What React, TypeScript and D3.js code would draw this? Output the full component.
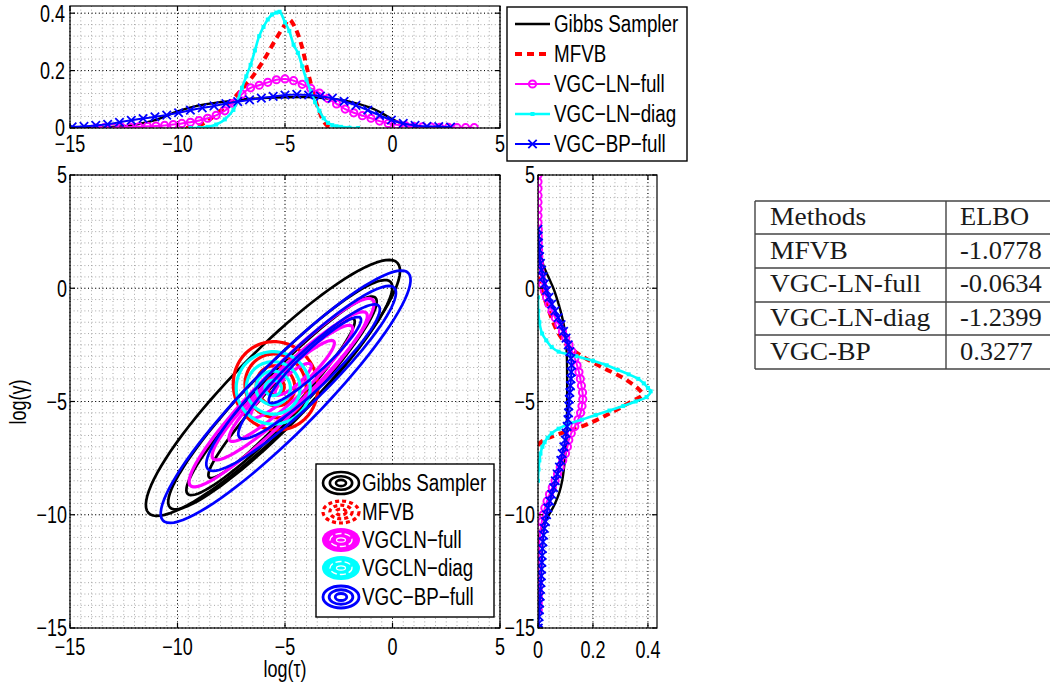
import React from 'react';
import * as d3 from 'd3';

// ---------- data: marginal of log(tau) (top panel) [x, density] ----------
const gibbsTop: [number, number][] = [
  [-15, 0], [-14, 0.001], [-13, 0.004], [-12, 0.011], [-11, 0.028], [-10, 0.058], [-9, 0.079], [-8, 0.09],
  [-7, 0.099], [-6, 0.104], [-5, 0.107], [-4, 0.108], [-3, 0.103], [-2, 0.092], [-1, 0.07], [-0.5, 0.052],
  [0, 0.03], [0.5, 0.014], [1, 0.005], [1.5, 0.002], [2, 0],
];
const mfvbTop: [number, number][] = [
  [-9.6, 0], [-9, 0.008], [-8.5, 0.03], [-8, 0.06], [-7.5, 0.095], [-7, 0.135], [-6.5, 0.18], [-6, 0.235],
  [-5.5, 0.3], [-5, 0.36], [-4.8, 0.378], [-4.5, 0.345], [-4.2, 0.28], [-4, 0.215], [-3.8, 0.155], [-3.6, 0.1],
  [-3.4, 0.057], [-3.2, 0.022], [-3, 0.006], [-2.8, 0],
];
const lnFullTop: [number, number][] = [
  [-13.8, 0], [-13.4, 0.001], [-13.0, 0.001], [-12.6, 0.002], [-12.2, 0.003], [-11.8, 0.004], [-11.4, 0.006],
  [-11.0, 0.007], [-10.6, 0.009], [-10.2, 0.012], [-9.8, 0.016], [-9.4, 0.02], [-9.0, 0.026], [-8.6, 0.034],
  [-8.2, 0.044], [-7.8, 0.06], [-7.4, 0.086], [-7.0, 0.118], [-6.6, 0.14], [-6.2, 0.149], [-5.8, 0.159],
  [-5.4, 0.168], [-5.0, 0.171], [-4.6, 0.165], [-4.2, 0.152], [-3.8, 0.138], [-3.4, 0.122], [-3.0, 0.103],
  [-2.6, 0.084], [-2.2, 0.066], [-1.8, 0.053], [-1.4, 0.043], [-1.0, 0.034], [-0.6, 0.024], [-0.2, 0.016],
  [0.2, 0.011], [0.6, 0.008], [1.0, 0.005], [1.4, 0.004], [1.8, 0.003], [2.2, 0.002], [2.6, 0.002],
  [3.0, 0.001], [3.4, 0.001], [3.8, 0.001],
];
const lnDiagTop: [number, number][] = [
  [-9.4, 0], [-9.0, 0.001], [-8.6, 0.004], [-8.2, 0.012], [-7.8, 0.03], [-7.4, 0.063], [-7.0, 0.14],
  [-6.8, 0.18], [-6.6, 0.22], [-6.4, 0.27], [-6.2, 0.32], [-6.0, 0.352], [-5.8, 0.378], [-5.6, 0.395],
  [-5.4, 0.402], [-5.25, 0.405], [-5.0, 0.368], [-4.8, 0.338], [-4.6, 0.29], [-4.4, 0.262], [-4.2, 0.215],
  [-4.0, 0.168], [-3.8, 0.128], [-3.6, 0.09], [-3.4, 0.06], [-3.2, 0.034], [-3.0, 0.018], [-2.8, 0.01],
  [-2.6, 0.006], [-2.4, 0.004], [-2.0, 0.001], [-1.6, 0],
];
const bpFullTop: [number, number][] = [
  [-14.9, 0.004], [-14.35, 0.006], [-13.8, 0.009], [-13.25, 0.013], [-12.7, 0.02], [-12.15, 0.027],
  [-11.6, 0.033], [-11.05, 0.039], [-10.5, 0.045], [-9.95, 0.053], [-9.4, 0.062], [-8.85, 0.07],
  [-8.3, 0.077], [-7.75, 0.085], [-7.2, 0.092], [-6.65, 0.098], [-6.1, 0.104], [-5.55, 0.11], [-5.0, 0.115],
  [-4.45, 0.117], [-3.9, 0.115], [-3.35, 0.111], [-2.8, 0.104], [-2.25, 0.093], [-1.7, 0.079], [-1.15, 0.062],
  [-0.6, 0.044], [-0.05, 0.028], [0.5, 0.016], [1.05, 0.009], [1.6, 0.006], [2.15, 0.005], [2.7, 0.003],
];

// ---------- data: marginal of log(gamma) (right panel) [y, density] ----------
const gibbsRight: [number, number][] = [
  [2.6, 0], [2.0, 0.002], [1.5, 0.01], [1.0, 0.02], [0.5, 0.038], [0, 0.056], [-0.5, 0.07], [-1, 0.082],
  [-1.5, 0.092], [-2, 0.099], [-2.5, 0.103], [-3, 0.105], [-4, 0.106], [-5, 0.106], [-6, 0.105],
  [-6.5, 0.104], [-7, 0.102], [-7.5, 0.098], [-8, 0.094], [-8.5, 0.088], [-9, 0.078], [-9.5, 0.062],
  [-10, 0.04], [-10.3, 0.025], [-10.6, 0.012], [-11, 0.003], [-11.3, 0],
];
const mfvbRight: [number, number][] = [
  [0.5, 0], [0, 0.012], [-0.5, 0.025], [-1, 0.04], [-1.5, 0.055], [-2, 0.075], [-2.5, 0.105], [-3, 0.16],
  [-3.5, 0.235], [-4, 0.315], [-4.5, 0.37], [-4.7, 0.38], [-5, 0.34], [-5.5, 0.265], [-6, 0.18],
  [-6.3, 0.11], [-6.6, 0.04], [-6.8, 0.01], [-7, 0],
];
const lnFullRight: [number, number][] = [
  [5.0, 0], [4.7, 0], [4.4, 0], [4.1, 0], [3.8, 0], [3.5, 0], [3.2, 0], [2.9, 0], [2.6, 0.001], [2.3, 0.001],
  [2.0, 0.001], [1.7, 0.002], [1.4, 0.003], [1.1, 0.005], [0.8, 0.007], [0.5, 0.011], [0.2, 0.016],
  [-0.1, 0.023], [-0.4, 0.031], [-0.7, 0.04], [-1.0, 0.051], [-1.3, 0.063], [-1.6, 0.076], [-1.9, 0.089],
  [-2.2, 0.101], [-2.5, 0.113], [-2.8, 0.124], [-3.1, 0.134], [-3.4, 0.142], [-3.7, 0.149], [-4.0, 0.154],
  [-4.3, 0.158], [-4.6, 0.162], [-4.9, 0.163], [-5.2, 0.16], [-5.5, 0.155], [-5.8, 0.146], [-6.1, 0.134],
  [-6.4, 0.121], [-6.7, 0.112], [-7.0, 0.107], [-7.3, 0.1], [-7.6, 0.09], [-7.9, 0.081], [-8.2, 0.071],
  [-8.5, 0.062], [-8.8, 0.052], [-9.1, 0.042], [-9.4, 0.033], [-9.7, 0.025], [-10.0, 0.019], [-10.3, 0.014],
  [-10.6, 0.01], [-10.9, 0.007], [-11.2, 0.005], [-11.5, 0.004], [-11.8, 0.003], [-12.1, 0.003],
  [-12.4, 0.002], [-12.7, 0.002], [-13.0, 0.002], [-13.3, 0.001], [-13.6, 0.001], [-13.9, 0.001], [-14.2, 0.001],
];
const lnDiagRight: [number, number][] = [
  [-0.4, 0], [-1, 0.001], [-1.5, 0.005], [-2, 0.015], [-2.3, 0.03], [-2.6, 0.05], [-2.8, 0.075], [-3, 0.14],
  [-3.2, 0.2], [-3.4, 0.25], [-3.6, 0.29], [-3.8, 0.33], [-4, 0.365], [-4.2, 0.385], [-4.4, 0.4], [-4.55, 0.41],
  [-4.8, 0.395], [-5, 0.355], [-5.2, 0.31], [-5.4, 0.26], [-5.6, 0.21], [-5.8, 0.16], [-6, 0.11], [-6.2, 0.075],
  [-6.4, 0.05], [-6.6, 0.035], [-6.8, 0.024], [-7, 0.016], [-7.3, 0.009], [-7.6, 0.005], [-8, 0.002], [-8.5, 0],
];
const bpFullRight: [number, number][] = [
  [2.6, 0], [2.3, 0.001], [2.0, 0.002], [1.7, 0.004], [1.4, 0.006], [1.1, 0.009], [0.8, 0.013], [0.5, 0.018],
  [0.2, 0.024], [-0.1, 0.031], [-0.4, 0.04], [-0.7, 0.05], [-1.0, 0.062], [-1.3, 0.073], [-1.6, 0.084],
  [-1.9, 0.093], [-2.2, 0.102], [-2.5, 0.11], [-2.8, 0.116], [-3.1, 0.12], [-3.4, 0.122], [-3.7, 0.121],
  [-4.0, 0.12], [-4.3, 0.118], [-4.6, 0.116], [-4.9, 0.114], [-5.2, 0.112], [-5.5, 0.111], [-5.8, 0.109],
  [-6.1, 0.106], [-6.4, 0.102], [-6.7, 0.099], [-7.0, 0.094], [-7.3, 0.088], [-7.6, 0.083], [-7.9, 0.078],
  [-8.2, 0.07], [-8.5, 0.063], [-8.8, 0.057], [-9.1, 0.05], [-9.4, 0.043], [-9.7, 0.036], [-10.0, 0.031],
  [-10.3, 0.027], [-10.6, 0.023], [-10.9, 0.02], [-11.2, 0.018], [-11.5, 0.016], [-11.8, 0.015],
  [-12.1, 0.014], [-12.4, 0.013], [-12.7, 0.012], [-13.0, 0.011], [-13.3, 0.009], [-13.6, 0.008],
  [-13.9, 0.006], [-14.2, 0.005], [-14.5, 0.004], [-14.8, 0.002], [-15.0, 0.001],
];

// ---------- data: joint contours [centerX, centerY, semiMajor, semiMinor, angleDeg] ----------
const gibbsContours = [
  [-5.56, -4.4, 8.0, 1.7, 43.6], [-5.22, -4.70, 7.15, 1.3, 44.1],
  [-5.16, -4.75, 6.15, 1.0, 44.7], [-5.16, -4.86, 4.85, 0.68, 46.0],
];
const mfvbContours = [
  [-5.44, -4.31, 2.0, 1.92, -40], [-5.44, -4.31, 1.45, 1.38, -40],
  [-5.44, -4.31, 0.92, 0.86, -40], [-5.44, -4.31, 0.42, 0.38, -40],
];
const lnFullContours = [
  [-5.16, -4.61, 5.9, 1.0, 44.0], [-4.78, -4.31, 4.8, 0.82, 42.0], [-4.73, -4.2, 3.8, 0.65, 41.5],
  [-4.65, -4.02, 2.55, 0.48, 41.1], [-4.62, -4.02, 1.05, 0.3, 38.9],
];
const lnDiagContours = [
  [-5.55, -4.4, 1.72, 1.6, 0], [-5.55, -4.4, 1.25, 1.16, 0],
  [-5.55, -4.4, 0.8, 0.74, 0], [-5.55, -4.4, 0.38, 0.34, 0],
];
const bpFullContours = [
  [-4.97, -4.79, 7.9, 1.55, 43.7], [-4.25, -3.98, 5.9, 1.15, 42.6],
  [-3.88, -3.68, 4.35, 0.85, 41.8], [-3.61, -3.17, 2.82, 0.52, 41.3],
];

// ---------- labels ----------
const topLegend = ['Gibbs Sampler', 'MFVB', 'VGC\u2212LN\u2212full', 'VGC\u2212LN\u2212diag', 'VGC\u2212BP\u2212full'];
const mainLegend = ['Gibbs Sampler', 'MFVB', 'VGCLN\u2212full', 'VGCLN\u2212diag', 'VGC\u2212BP\u2212full'];
const mainTicks = [-15, -10, -5, 0, 5];
const densTicks = [0, 0.2, 0.4];
const tableHeader = ['Methods', 'ELBO'];
const tableMethods = ['MFVB', 'VGC-LN-full', 'VGC-LN-diag', 'VGC-BP'];
const tableElbo = ['-1.0778', '-0.0634', '-1.2399', '0.3277'];

const COLORS = { gibbs: '#000000', mfvb: '#ff0000', full: '#ff00ff', diag: '#00ffff', bp: '#0000ff' };
const FONT = "'Liberation Sans', Arial, Helvetica, sans-serif";
const SERIF = "'Liberation Serif', 'Times New Roman', serif";

const fmt = (v: number) => (v < 0 ? '\u2212' + Math.abs(v) : String(v));

function Txt({ x, y, text, anchor = 'middle', size = 18, rotate = 0, sy = 1.3 }: any) {
  return (
    <text transform={`translate(${x},${y}) rotate(${rotate}) scale(1,${sy})`} textAnchor={anchor}
      dominantBaseline="central" fontFamily={FONT} fontSize={size} fill="#000">{text}</text>
  );
}

// scales
const xTop = d3.scaleLinear().domain([-15, 5]).range([70, 500]);
const yTop = d3.scaleLinear().domain([0, 0.425]).range([128, 6]);
const xMain = d3.scaleLinear().domain([-15, 5]).range([70, 500]);
const yMain = d3.scaleLinear().domain([-15, 5]).range([628, 175]);
const xRight = d3.scaleLinear().domain([0, 0.433]).range([538, 657]);
const yRight = yMain;

function Grid({ xs, ys, xMajor, yMajor, xMinor, yMinor }: any) {
  const [x0, x1] = xs.range();
  const [y0, y1] = ys.range();
  const top = Math.min(y0, y1), bot = Math.max(y0, y1);
  return (
    <g>
      {xMinor.map((v: number, i: number) => (
        <line key={'xm' + i} x1={xs(v)} x2={xs(v)} y1={top} y2={bot} stroke="#a8a8a8" strokeWidth={1} strokeDasharray="1,2.6" />
      ))}
      {yMinor.map((v: number, i: number) => (
        <line key={'ym' + i} y1={ys(v)} y2={ys(v)} x1={x0} x2={x1} stroke="#a8a8a8" strokeWidth={1} strokeDasharray="1,2.6" />
      ))}
      {xMajor.map((v: number, i: number) => (
        <line key={'xM' + i} x1={xs(v)} x2={xs(v)} y1={top} y2={bot} stroke="#000" strokeWidth={1} strokeDasharray="1,2.6" />
      ))}
      {yMajor.map((v: number, i: number) => (
        <line key={'yM' + i} y1={ys(v)} y2={ys(v)} x1={x0} x2={x1} stroke="#000" strokeWidth={1} strokeDasharray="1,2.6" />
      ))}
    </g>
  );
}

function Box({ xs, ys, xt, yt }: any) {
  const [x0, x1] = xs.range();
  const [y0, y1] = ys.range();
  const top = Math.min(y0, y1), bot = Math.max(y0, y1);
  const L = 5;
  return (
    <g stroke="#000" strokeWidth={1.2}>
      <rect x={x0} y={top} width={x1 - x0} height={bot - top} fill="none" />
      {xt.map((v: number, i: number) => (
        <g key={'xt' + i}>
          <line x1={xs(v)} x2={xs(v)} y1={bot} y2={bot - L} />
          <line x1={xs(v)} x2={xs(v)} y1={top} y2={top + L} />
        </g>
      ))}
      {yt.map((v: number, i: number) => (
        <g key={'yt' + i}>
          <line y1={ys(v)} y2={ys(v)} x1={x0} x2={x0 + L} />
          <line y1={ys(v)} y2={ys(v)} x1={x1} x2={x1 - L} />
        </g>
      ))}
    </g>
  );
}

const Marker = ({ kind, x, y, color }: any) => {
  if (kind === 'circle') return <circle cx={x} cy={y} r={3.6} fill="none" stroke={color} strokeWidth={2} />;
  if (kind === 'square') return <rect x={x - 2} y={y - 2} width={4} height={4} fill={color} />;
  if (kind === 'x')
    return <path d={`M${x - 4.2},${y - 4.2}L${x + 4.2},${y + 4.2}M${x - 4.2},${y + 4.2}L${x + 4.2},${y - 4.2}`} stroke={color} strokeWidth={1.8} />;
  return null;
};

function ringPath(c: number[]) {
  const [cx, cy, a, b, ang] = c;
  const r = (ang * Math.PI) / 180;
  const pts = d3.range(0, 360, 4).map((t) => {
    const tt = (t * Math.PI) / 180;
    const u = a * Math.cos(tt), v = b * Math.sin(tt);
    return [xMain(cx + u * Math.cos(r) - v * Math.sin(r)), yMain(cy + u * Math.sin(r) + v * Math.cos(r))] as [number, number];
  });
  return d3.line().curve(d3.curveLinearClosed)(pts) || '';
}

const seriesDefs = [
  { top: gibbsTop, right: gibbsRight, color: COLORS.gibbs, width: 2.4, dash: undefined, marker: null },
  { top: mfvbTop, right: mfvbRight, color: COLORS.mfvb, width: 4, dash: '7,5', marker: null },
  { top: lnFullTop, right: lnFullRight, color: COLORS.full, width: 2, dash: undefined, marker: 'circle' },
  { top: lnDiagTop, right: lnDiagRight, color: COLORS.diag, width: 2.6, dash: undefined, marker: 'square' },
  { top: bpFullTop, right: bpFullRight, color: COLORS.bp, width: 2, dash: undefined, marker: 'x' },
];

export default function App() {
  const lineTop = d3.line<[number, number]>().x((d) => xTop(d[0])).y((d) => yTop(d[1])).curve(d3.curveCatmullRom);
  const lineRight = d3.line<[number, number]>().x((d) => xRight(d[1])).y((d) => yRight(d[0])).curve(d3.curveCatmullRom);

  const minor5 = d3.range(-15, 5.001, 0.5);
  const minorDensTop = d3.range(0, 0.425, 0.04);
  const minorDensRight = d3.range(0, 0.433, 0.04);

  const contourSets = [
    { data: gibbsContours, color: COLORS.gibbs, width: 2.7 },
    { data: mfvbContours, color: COLORS.mfvb, width: 3.2 },
    { data: lnFullContours, color: COLORS.full, width: 3.2 },
    { data: lnDiagContours, color: COLORS.diag, width: 3.2 },
    { data: bpFullContours, color: COLORS.bp, width: 2.7 },
  ];

  const topLegY = [24, 54, 84, 114, 144];
  const mainLegY = [483, 512, 540, 568, 597];
  const rowLines = [201, 234, 268, 302, 335, 369];
  const rowBase = [225, 259, 292, 326, 360];

  return (
    <svg width={1050} height={692} style={{ position: 'absolute', left: 0, top: 0, background: '#fff' }}>
      <defs>
        <clipPath id="clipTop"><rect x={70} y={6} width={430} height={122} /></clipPath>
        <clipPath id="clipMain"><rect x={70} y={175} width={430} height={453} /></clipPath>
        <clipPath id="clipRight"><rect x={538} y={175} width={119} height={453} /></clipPath>
      </defs>
      <rect x={0} y={0} width={1050} height={692} fill="#fff" />

      {/* ---------- top marginal ---------- */}
      <Grid xs={xTop} ys={yTop} xMajor={mainTicks} yMajor={densTicks} xMinor={minor5} yMinor={minorDensTop} />
      <g clipPath="url(#clipTop)">
        {seriesDefs.map((s, i) => (
          <g key={'ts' + i}>
            <path d={lineTop(s.top) || ''} fill="none" stroke={s.color} strokeWidth={s.width} strokeDasharray={s.dash} />
            {s.marker && s.top.map((d, j) => <Marker key={j} kind={s.marker} x={xTop(d[0])} y={yTop(d[1])} color={s.color} />)}
          </g>
        ))}
      </g>
      <Box xs={xTop} ys={yTop} xt={mainTicks} yt={densTicks} />
      {mainTicks.map((v) => <Txt key={'tx' + v} x={xTop(v)} y={144} text={fmt(v)} />)}
      {densTicks.map((v) => <Txt key={'ty' + v} x={65} y={yTop(v)} text={String(v)} anchor="end" />)}

      {/* top legend */}
      <rect x={507} y={7} width={180} height={154} fill="#fff" stroke="#000" strokeWidth={1.4} />
      {seriesDefs.map((s, i) => (
        <g key={'tl' + i}>
          <line x1={515} x2={550} y1={topLegY[i]} y2={topLegY[i]} stroke={s.color} strokeWidth={s.width} strokeDasharray={s.dash} />
          {s.marker && <Marker kind={s.marker} x={532.5} y={topLegY[i]} color={s.color} />}
          <Txt x={554} y={topLegY[i]} text={topLegend[i]} anchor="start" size={18.8} sy={1.28} />
        </g>
      ))}

      {/* ---------- main joint panel ---------- */}
      <Grid xs={xMain} ys={yMain} xMajor={mainTicks} yMajor={mainTicks} xMinor={minor5} yMinor={minor5} />
      <g clipPath="url(#clipMain)">
        {contourSets.map((cs, i) => (
          <g key={'cs' + i}>
            {cs.data.map((c, j) => (
              <path key={j} d={ringPath(c)} fill="none" stroke={cs.color} strokeWidth={cs.width} strokeLinejoin="round" />
            ))}
          </g>
        ))}
      </g>
      <Box xs={xMain} ys={yMain} xt={mainTicks} yt={mainTicks} />
      {mainTicks.map((v) => <Txt key={'mx' + v} x={xMain(v)} y={647} text={fmt(v)} />)}
      {mainTicks.map((v) => <Txt key={'my' + v} x={67} y={yMain(v)} text={fmt(v)} anchor="end" />)}
      <Txt x={285} y={669} text={'log(\u03C4)'} />
      <Txt x={18} y={402} text={'log(\u03B3)'} rotate={-90} />

      {/* main legend */}
      <rect x={316} y={464} width={178} height={153} fill="#fff" stroke="#000" strokeWidth={1.4} />
      <g>
        {[1, 0.62, 0.28].map((k, j) => (
          <ellipse key={'g' + j} cx={341} cy={mainLegY[0]} rx={18 * k} ry={11 * k} fill="none" stroke={COLORS.gibbs} strokeWidth={2.6} />
        ))}
        {[1, 0.62, 0.28].map((k, j) => (
          <ellipse key={'m' + j} cx={341} cy={mainLegY[1]} rx={18 * k} ry={11 * k} fill="none" stroke={COLORS.mfvb} strokeWidth={3.2} strokeDasharray="4,3" />
        ))}
        <ellipse cx={341} cy={mainLegY[2]} rx={19} ry={12} fill={COLORS.full} />
        <ellipse cx={341} cy={mainLegY[2]} rx={11} ry={6.5} fill="none" stroke="#fff" strokeWidth={1.3} strokeDasharray="6,3" />
        <ellipse cx={341} cy={mainLegY[2]} rx={4.5} ry={2.2} fill="none" stroke="#fff" strokeWidth={1.2} />
        <ellipse cx={341} cy={mainLegY[3]} rx={19} ry={12} fill={COLORS.diag} />
        <ellipse cx={341} cy={mainLegY[3]} rx={11} ry={6.5} fill="none" stroke="#fff" strokeWidth={1.3} strokeDasharray="6,3" />
        <ellipse cx={341} cy={mainLegY[3]} rx={4.5} ry={2.2} fill="none" stroke="#fff" strokeWidth={1.2} />
        {[1, 0.66, 0.32].map((k, j) => (
          <ellipse key={'b' + j} cx={341} cy={mainLegY[4]} rx={18 * k} ry={11 * k} fill="none" stroke={COLORS.bp} strokeWidth={2.8} />
        ))}
        {mainLegend.map((t, i) => <Txt key={'ml' + i} x={362} y={mainLegY[i]} text={t} anchor="start" size={18.8} sy={1.28} />)}
      </g>

      {/* ---------- right marginal ---------- */}
      <Grid xs={xRight} ys={yRight} xMajor={densTicks} yMajor={mainTicks} xMinor={minorDensRight} yMinor={minor5} />
      <g clipPath="url(#clipRight)">
        {seriesDefs.map((s, i) => (
          <g key={'rs' + i}>
            <path d={lineRight(s.right) || ''} fill="none" stroke={s.color} strokeWidth={s.width} strokeDasharray={s.dash} />
            {s.marker && s.right.map((d, j) => <Marker key={j} kind={s.marker} x={xRight(d[1])} y={yRight(d[0])} color={s.color} />)}
          </g>
        ))}
      </g>
      <Box xs={xRight} ys={yRight} xt={densTicks} yt={mainTicks} />
      {densTicks.map((v) => <Txt key={'rx' + v} x={xRight(v)} y={650} text={String(v)} />)}
      {mainTicks.map((v) => <Txt key={'ry' + v} x={535} y={yRight(v)} text={fmt(v)} anchor="end" />)}

      {/* ---------- table ---------- */}
      <g stroke="#444" strokeWidth={1.4}>
        {rowLines.map((y, i) => <line key={'rl' + i} x1={755} x2={1050} y1={y} y2={y} />)}
        <line x1={755} x2={755} y1={201} y2={369} />
        <line x1={946} x2={946} y1={201} y2={369} />
      </g>
      {[tableHeader[0], ...tableMethods].map((t, i) => (
        <text key={'tm' + i} transform={`translate(770,${rowBase[i]}) scale(1.1,1)`} fontFamily={SERIF} fontSize={25} fill="#1a1a1a">{t}</text>
      ))}
      {[tableHeader[1], ...tableElbo].map((t, i) => (
        <text key={'te' + i} transform={`translate(960,${rowBase[i]}) scale(1.06,1)`} fontFamily={SERIF} fontSize={25} fill="#1a1a1a">{t}</text>
      ))}
    </svg>
  );
}
